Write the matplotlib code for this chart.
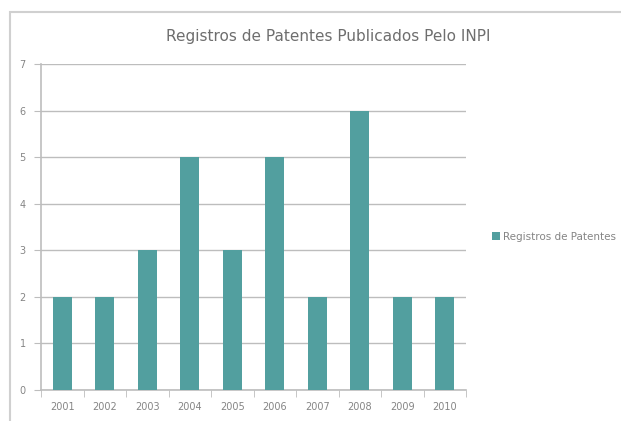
import matplotlib.pyplot as plt
from matplotlib.patches import Rectangle
import numpy as np

anos = ['2001', '2002', '2003', '2004', '2005', '2006', '2007', '2008', '2009', '2010']
registros = [2, 2, 3, 5, 3, 5, 2, 6, 2, 2]

cor_barra = '#529f9f'
cor_texto = '#858585'
cor_linha = '#bdbdbd'

fig = plt.figure(figsize=(6.21, 4.21), dpi=100)
fig.patch.set_facecolor('white')

# moldura do grafico (estilo Excel)
fig.patches.append(Rectangle((10 / 621, -0.05), 1.0, 1 - 12 / 421 + 0.05,
                             transform=fig.transFigure, fill=False,
                             edgecolor='#d0d0d0', linewidth=1.5))

ax = fig.add_axes([41 / 621, 1 - 390 / 421, (466 - 41) / 621, (390 - 64) / 421])

x = np.arange(len(anos))
ax.bar(x, registros, width=0.45, color=cor_barra, label='Registros de Patentes', zorder=3)

ax.set_xlim(-0.5, len(anos) - 0.5)
ax.set_ylim(0, 7)
ax.set_yticks(range(0, 8))
ax.yaxis.grid(True, color=cor_linha, linewidth=1, zorder=0)

ax.set_xticks(x)
ax.set_xticklabels(anos)
ax.set_xticks(np.arange(-0.5, len(anos)), minor=True)
ax.tick_params(axis='x', which='major', length=0, labelsize=7, labelcolor=cor_texto, pad=9)
ax.tick_params(axis='x', which='minor', length=5, color=cor_linha, direction='out')
ax.tick_params(axis='y', length=5, color=cor_linha, labelsize=7, labelcolor=cor_texto, pad=6)

for lado in ['top', 'right']:
    ax.spines[lado].set_visible(False)
for lado in ['left', 'bottom']:
    ax.spines[lado].set_color(cor_linha)
    ax.spines[lado].set_linewidth(1.2)

fig.text(328 / 621, 1 - 37 / 421, 'Registros de Patentes Publicados Pelo INPI',
         ha='center', va='center', fontsize=11, color='#6e6e6e')

ax.legend(loc='center left', bbox_to_anchor=(1.04, 0.47), frameon=False,
          fontsize=7.5, labelcolor=cor_texto, handlelength=0.7, handleheight=0.7,
          handletextpad=0.3)

fig.savefig('out.png', dpi=100)
